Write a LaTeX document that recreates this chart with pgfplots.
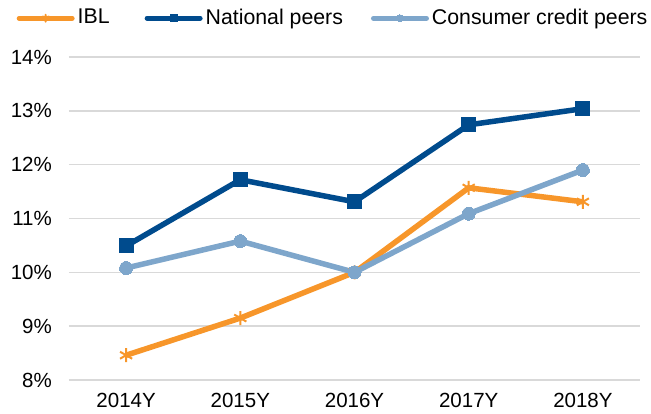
\documentclass[border=0pt]{standalone}
\usepackage{pgfplots}
\pgfplotsset{compat=1.18}
\usepackage{fontspec}
\setmainfont{Liberation Sans}
\definecolor{cOrange}{HTML}{F7962A}
\definecolor{cDark}{HTML}{004B8D}
\definecolor{cLight}{HTML}{7EA6CB}
\definecolor{cGrid}{HTML}{D9D9D9}
\begin{document}
\fontsize{21}{25}\selectfont
\begin{tikzpicture}
\useasboundingbox (-69pt,-34pt) rectangle (582pt,380pt);
\begin{axis}[
  at={(0,0)}, anchor=south west,
  scale only axis, width=571pt, height=323pt,
  xmin=-0.5, xmax=4.5, ymin=8, ymax=14,
  xtick={0,1,2,3,4},
  xticklabels={2014Y,2015Y,2016Y,2017Y,2018Y},
  ytick={8,9,10,11,12,13,14},
  yticklabel={\pgfmathprintnumber{\tick}\%},
  /pgf/number format/assume math mode=true,
  axis line style={draw=none},
  major tick length=0pt,
  ymajorgrids, grid style={cGrid, line width=1.5pt},
  tick label style={font=\fontsize{20.5}{24}\selectfont},
  yticklabel style={xshift=-10pt},
  xticklabel style={yshift=-6pt},
  legend columns=3,
  legend cell align=left,
  legend style={draw=none, fill=none, at={(-0.092,1.12)}, anchor=west,
    inner sep=0pt,
    nodes={inner xsep=3pt},
    font=\fontsize{21.3}{25}\selectfont,
    /tikz/column 2/.style={column sep=32pt},
    /tikz/column 4/.style={column sep=25pt}},
  legend image code/.code={
    \draw[mark repeat=2, mark phase=2, #1, line width=5pt, line cap=round, mark size=3.5pt]
      plot coordinates {(0pt,0pt) (26.5pt,0pt) (53pt,0pt)};
  },
]
\addplot[cOrange, line width=5.5pt, mark=asterisk, mark size=7pt, mark options={line width=2pt, solid}]
  coordinates {(0,8.46) (1,9.15) (2,10.0) (3,11.57) (4,11.31)};
\addlegendentry{IBL}
\addplot[cDark, line width=5.5pt, mark=square*, mark size=7pt, mark options={line width=0pt, solid}]
  coordinates {(0,10.49) (1,11.72) (2,11.31) (3,12.74) (4,13.04)};
\addlegendentry{National peers}
\addplot[cLight, line width=5.5pt, mark=*, mark size=6.5pt, mark options={line width=0pt, solid}]
  coordinates {(0,10.08) (1,10.58) (2,10.0) (3,11.09) (4,11.90)};
\addlegendentry{Consumer credit peers}
\end{axis}
\end{tikzpicture}
\end{document}
